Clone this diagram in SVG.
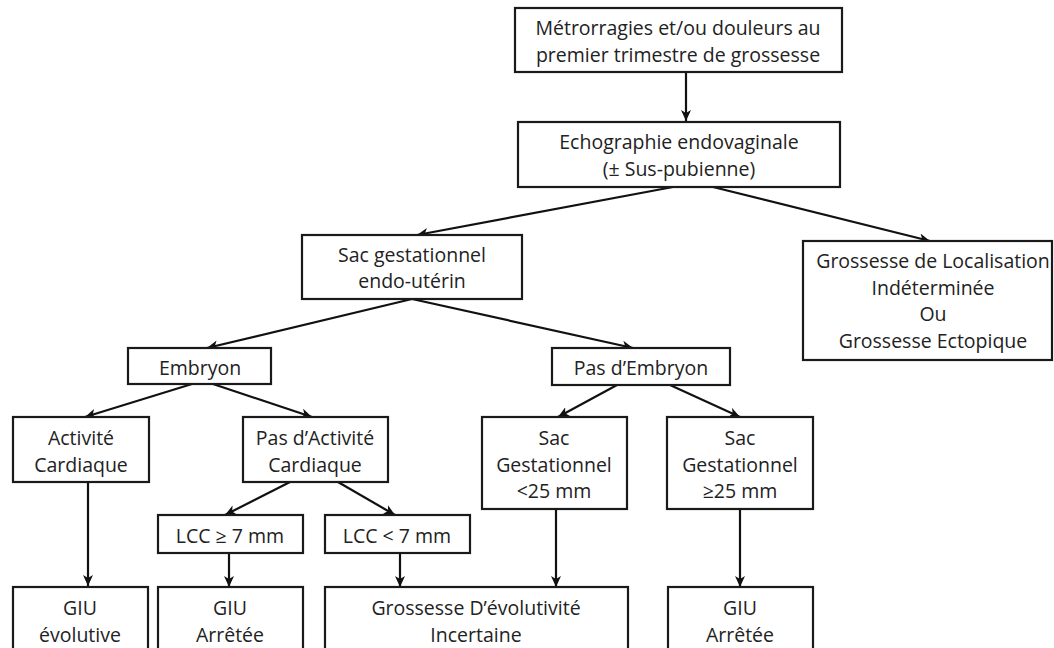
<svg xmlns="http://www.w3.org/2000/svg" width="1054" height="648" viewBox="0 0 1054 648">
<defs>
<marker id="ah" markerUnits="userSpaceOnUse" markerWidth="13" markerHeight="12" refX="11" refY="5.5" orient="auto">
<path d="M0,0.5 L11,5.5 L0,10.5 L3,5.5 z" fill="#111"/>
</marker>
<style>
.box{fill:#fff;stroke:#1a1a1a;stroke-width:2.2}
.t{font-family:"Open Sans","Liberation Sans",sans-serif;font-size:19.5px;fill:#222;text-anchor:middle}
.c{stroke:#111;stroke-width:2.2;fill:none;marker-end:url(#ah)}
</style>
</defs>
<rect width="1054" height="648" fill="#fff"/>
<g id="connectors">
<line class="c" x1="686" y1="72" x2="686" y2="121"/>
<line class="c" x1="673" y1="187" x2="417" y2="235"/>
<line class="c" x1="713" y1="187" x2="930" y2="241"/>
<line class="c" x1="412" y1="299" x2="207" y2="348"/>
<line class="c" x1="412" y1="299" x2="633" y2="348"/>
<line class="c" x1="192" y1="384" x2="85" y2="417"/>
<line class="c" x1="213" y1="384" x2="312" y2="417"/>
<line class="c" x1="617" y1="385" x2="558" y2="417"/>
<line class="c" x1="670" y1="385" x2="740" y2="417"/>
<line class="c" x1="88" y1="482" x2="88" y2="586"/>
<line class="c" x1="290" y1="482" x2="225" y2="515"/>
<line class="c" x1="338" y1="482" x2="395" y2="515"/>
<line class="c" x1="229" y1="553" x2="229" y2="587"/>
<line class="c" x1="400" y1="553" x2="400" y2="587"/>
<line class="c" x1="556" y1="509" x2="556" y2="587"/>
<line class="c" x1="740" y1="509" x2="740" y2="587"/>
</g>
<g id="n1"><rect class="box" x="515" y="8" width="327" height="64"/>
<text class="t" x="678" y="35">Métrorragies et/ou douleurs au</text>
<text class="t" x="678" y="61.5">premier trimestre de grossesse</text></g>
<g id="n2"><rect class="box" x="518" y="122" width="322" height="65"/>
<text class="t" x="679" y="149">Echographie endovaginale</text>
<text class="t" x="679" y="175.5">(± Sus-pubienne)</text></g>
<g id="n3"><rect class="box" x="302" y="235" width="220" height="64"/>
<text class="t" x="412" y="261.5">Sac gestationnel</text>
<text class="t" x="412" y="288">endo-utérin</text></g>
<g id="n4"><rect class="box" x="803" y="241" width="249" height="119"/>
<text class="t" x="933" y="268">Grossesse de Localisation</text>
<text class="t" x="933" y="294.5">Indéterminée</text>
<text class="t" x="933" y="321">Ou</text>
<text class="t" x="933" y="348">Grossesse Ectopique</text></g>
<g id="n5"><rect class="box" x="128" y="348" width="143" height="36"/>
<text class="t" x="200" y="375">Embryon</text></g>
<g id="n6"><rect class="box" x="552" y="348" width="178" height="37"/>
<text class="t" x="641" y="375">Pas d’Embryon</text></g>
<g id="n7"><rect class="box" x="13" y="417" width="136" height="65"/>
<text class="t" x="81" y="445">Activité</text>
<text class="t" x="81" y="472">Cardiaque</text></g>
<g id="n8"><rect class="box" x="243" y="417" width="145" height="65"/>
<text class="t" x="315" y="445">Pas d’Activité</text>
<text class="t" x="315" y="472">Cardiaque</text></g>
<g id="n9"><rect class="box" x="482" y="417" width="145" height="92"/>
<text class="t" x="554" y="445">Sac</text>
<text class="t" x="554" y="471.5">Gestationnel</text>
<text class="t" x="554" y="498">&lt;25 mm</text></g>
<g id="n10"><rect class="box" x="667" y="417" width="146" height="92"/>
<text class="t" x="740" y="445">Sac</text>
<text class="t" x="740" y="471.5">Gestationnel</text>
<text class="t" x="740" y="498">≥25 mm</text></g>
<g id="n11"><rect class="box" x="158" y="515" width="145" height="38"/>
<text class="t" x="230" y="543">LCC ≥ 7 mm</text></g>
<g id="n12"><rect class="box" x="325" y="515" width="145" height="38"/>
<text class="t" x="397" y="543">LCC &lt; 7 mm</text></g>
<g id="n13"><rect class="box" x="13" y="587" width="135" height="80"/>
<text class="t" x="80" y="615">GIU</text>
<text class="t" x="80" y="642">évolutive</text></g>
<g id="n14"><rect class="box" x="158" y="587" width="145" height="80"/>
<text class="t" x="230" y="615">GIU</text>
<text class="t" x="230" y="642">Arrêtée</text></g>
<g id="n15"><rect class="box" x="325" y="587" width="303" height="80"/>
<text class="t" x="476" y="615">Grossesse D’évolutivité</text>
<text class="t" x="476" y="642">Incertaine</text></g>
<g id="n16"><rect class="box" x="668" y="587" width="145" height="80"/>
<text class="t" x="740" y="615">GIU</text>
<text class="t" x="740" y="642">Arrêtée</text></g>
</svg>
